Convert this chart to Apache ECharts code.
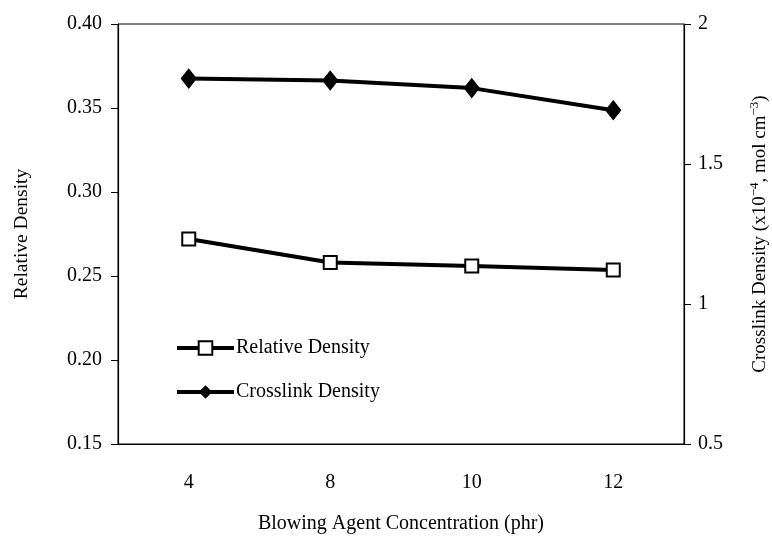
<!DOCTYPE html>
<html>
<head>
<meta charset="utf-8">
<script src="https://cdn.jsdelivr.net/npm/echarts@6/dist/echarts.min.js"></script>
<style>
  html, body { margin: 0; padding: 0; background: #fff; }
  #main { width: 772px; height: 538px; }
</style>
</head>
<body>
<div id="main"></div>
<script>
// data
var concentration = ['4', '8', '10', '12'];
var relativeDensity = [0.272, 0.258, 0.256, 0.2535];
var crosslinkDensity = [1.805, 1.798, 1.771, 1.692];

var leftTicks = { min: 0.15, max: 0.40, interval: 0.05 };
var rightTicks = { min: 0.5, max: 2, interval: 0.5 };

var FONT = '"Liberation Serif", "DejaVu Serif", serif';
var chart = echarts.init(document.getElementById('main'), null, { renderer: 'canvas' });

var option = {
    backgroundColor: '#fff',
    animation: false,
    textStyle: { fontFamily: FONT, color: '#000' },
    grid: {
        left: 118, right: 88, top: 24, bottom: 94,
        outerBoundsMode: 'none',
        containLabel: false,
        show: true, borderColor: '#000', borderWidth: 1
    },
    legend: {
        orient: 'vertical',
        left: 170, top: 333,
        itemWidth: 57, itemHeight: 17, itemGap: 24,
        lineStyle: { width: 4, color: '#000' },
        textStyle: { fontFamily: FONT, fontSize: 20, color: '#000', padding: [0, 0, 0, -3] },
        data: ['Relative Density', 'Crosslink Density']
    },
    xAxis: {
        type: 'category',
        data: concentration,
        boundaryGap: true,
        name: 'Blowing Agent Concentration (phr)',
        nameLocation: 'middle',
        nameGap: 70,
        nameTextStyle: { fontFamily: FONT, fontSize: 20, color: '#000' },
        axisLine: { lineStyle: { color: '#000', width: 1.2 } },
        axisTick: { length: 7, lineStyle: { color: '#000' } },
        axisLabel: { fontFamily: FONT, fontSize: 20, color: '#000', margin: 29 },
        splitLine: { show: false }
    },
    yAxis: [{
        type: 'value',
        position: 'left',
        min: leftTicks.min, max: leftTicks.max, interval: leftTicks.interval,
        name: 'Relative Density',
        nameLocation: 'middle',
        nameRotate: 90,
        nameGap: 86,
        nameTextStyle: { fontFamily: FONT, fontSize: 19.5, color: '#000' },
        axisLine: { show: true, lineStyle: { color: '#000', width: 1.2 } },
        axisTick: { show: true, length: 7, lineStyle: { color: '#000' } },
        axisLabel: {
            fontFamily: FONT, fontSize: 20, color: '#000', margin: 16,
            formatter: function (v) { return v.toFixed(2); }
        },
        splitLine: { show: false }
    }, {
        type: 'value',
        position: 'right',
        min: rightTicks.min, max: rightTicks.max, interval: rightTicks.interval,
        name: '{n|Crosslink Density (x10}{s|−4}{n|, mol cm}{s|−3}{n|)}',
        nameLocation: 'middle',
        nameRotate: 90,
        nameGap: 64,
        nameTextStyle: {
            fontFamily: FONT, color: '#000',
            rich: {
                n: { fontFamily: FONT, fontSize: 19, color: '#000' },
                s: { fontFamily: FONT, fontSize: 13, color: '#000', padding: [0, 0, 12, 0] }
            }
        },
        axisLine: { show: true, lineStyle: { color: '#000', width: 1.2 } },
        axisTick: { show: true, length: 7, lineStyle: { color: '#000' } },
        axisLabel: {
            fontFamily: FONT, fontSize: 20, color: '#000', margin: 14,
            formatter: function (v) { return String(v); }
        },
        splitLine: { show: false }
    }],
    series: [{
        name: 'Relative Density',
        type: 'line',
        yAxisIndex: 0,
        data: relativeDensity,
        symbol: 'rect',
        symbolSize: 13,
        lineStyle: { color: '#000', width: 4 },
        itemStyle: { color: '#fff', borderColor: '#000', borderWidth: 2 },
        z: 3
    }, {
        name: 'Crosslink Density',
        type: 'line',
        yAxisIndex: 1,
        data: crosslinkDensity,
        symbol: 'diamond',
        symbolSize: [15, 19],
        lineStyle: { color: '#000', width: 4 },
        itemStyle: { color: '#000', borderColor: '#000' },
        z: 3
    }]
};

chart.setOption(option);
</script>
</body>
</html>
